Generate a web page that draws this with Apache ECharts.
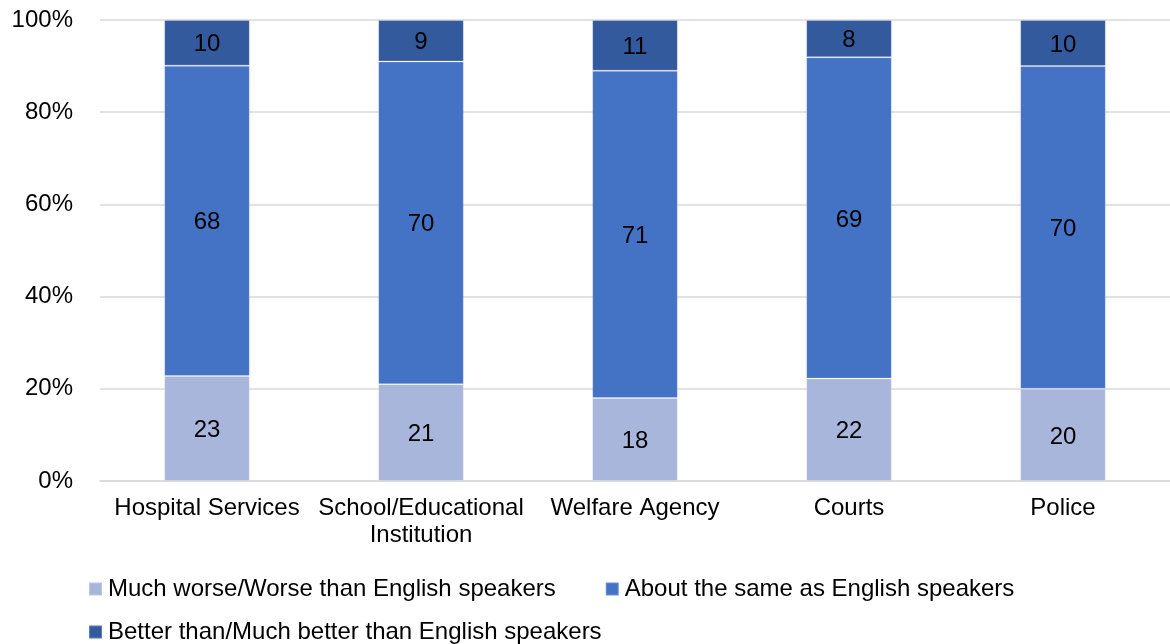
<!DOCTYPE html>
<html>
<head>
<meta charset="utf-8">
<script src="https://cdn.jsdelivr.net/npm/echarts@6/dist/echarts.min.js"></script>
<style>
html,body{margin:0;padding:0;background:#fff;}
#c{width:1170px;height:644px;}
</style>
</head>
<body>
<div id="c"></div>
<script>
const categories = ['Hospital Services', 'School/Educational\nInstitution', 'Welfare Agency', 'Courts', 'Police'];
const worse = [23, 21, 18, 22, 20];
const same = [68, 70, 71, 69, 70];
const better = [10, 9, 11, 8, 10];
const seriesNames = ['Much worse/Worse than English speakers', 'About the same as English speakers', 'Better than/Much better than English speakers'];
const yTicks = [0, 20, 40, 60, 80, 100];

const colors = ['#A8B6DB', '#4472C4', '#345A9E'];
const raw = [worse, same, better];
const totals = categories.map((_, i) => worse[i] + same[i] + better[i]);

const chart = echarts.init(document.getElementById('c'));
const fontFamily = 'Liberation Sans, Arial, sans-serif';

const series = raw.map((arr, si) => ({
  name: seriesNames[si],
  type: 'bar',
  stack: 'total',
  barWidth: '40%',
  data: arr.map((v, i) => v / totals[i] * 100),
  itemStyle: { color: colors[si], borderColor: 'rgba(255,255,255,0.22)', borderWidth: 1 },
  label: {
    show: true,
    position: 'inside',
    offset: [0, 2],
    color: '#000',
    fontSize: 24,
    fontFamily: fontFamily,
    formatter: p => String(arr[p.dataIndex])
  },
  emphasis: { disabled: true }
}));

chart.setOption({
  animation: false,
  color: colors,
  grid: { left: 100, right: 0, top: 20, bottom: 163 },
  xAxis: {
    type: 'category',
    data: categories,
    axisLine: { show: true, lineStyle: { color: '#D9D9D9', width: 1.5 } },
    axisTick: { show: false },
    axisLabel: { color: '#000', fontSize: 24, fontFamily: fontFamily, margin: 14, lineHeight: 27, interval: 0 }
  },
  yAxis: {
    type: 'value',
    min: yTicks[0],
    max: yTicks[yTicks.length - 1],
    interval: 20,
    axisLine: { show: false },
    axisTick: { show: false },
    splitLine: { lineStyle: { color: '#D9D9D9', width: 1.5 } },
    axisLabel: { color: '#000', fontSize: 24, fontFamily: fontFamily, margin: 27, formatter: '{value}%' }
  },
  legend: [
    {
      data: [seriesNames[0], seriesNames[1]],
      left: 83, top: 572,
      itemWidth: 13, itemHeight: 13, itemGap: 49,
      icon: 'rect',
      selectedMode: false,
      textStyle: { color: '#000', fontSize: 24, fontFamily: fontFamily, padding: [0, 0, 0, 1] }
    },
    {
      data: [seriesNames[2]],
      left: 83, top: 615,
      itemWidth: 13, itemHeight: 13,
      icon: 'rect',
      selectedMode: false,
      textStyle: { color: '#000', fontSize: 24, fontFamily: fontFamily, padding: [0, 0, 0, 1] }
    }
  ],
  series: series
});
</script>
</body>
</html>
